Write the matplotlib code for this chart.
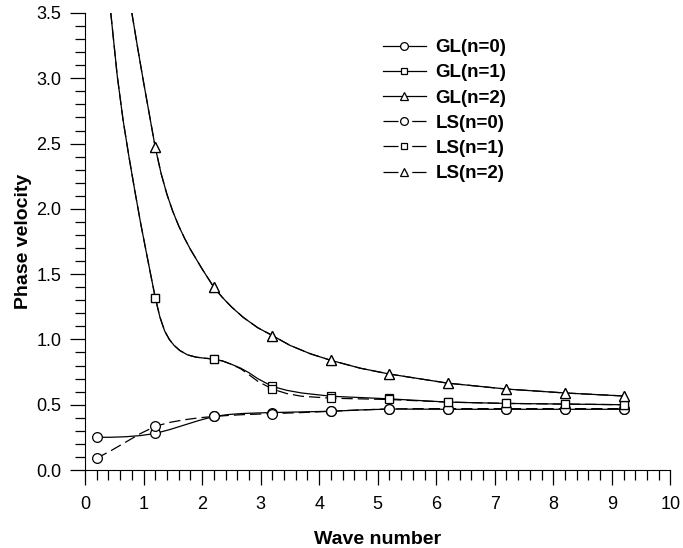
import numpy as np
import matplotlib.pyplot as plt
from matplotlib.ticker import MultipleLocator

plt.rcParams['font.family'] = ['Liberation Sans Narrow', 'Liberation Sans', 'DejaVu Sans']

# marker positions (wave number) and values
k = [0.2, 1.2, 2.2, 3.2, 4.2, 5.2, 6.2, 7.2, 8.2, 9.2]
gl0 = [0.25, 0.28, 0.41, 0.44, 0.45, 0.47, 0.465, 0.465, 0.465, 0.465]
gl1 = [np.nan, 1.32, 0.85, 0.64, 0.57, 0.55, 0.52, 0.51, 0.505, 0.50]
gl2 = [np.nan, 2.47, 1.40, 1.03, 0.84, 0.735, 0.665, 0.62, 0.59, 0.567]
ls0 = [0.09, 0.34, 0.41, 0.43, 0.45, 0.47, 0.47, 0.47, 0.47, 0.47]
ls1 = [np.nan, 1.32, 0.85, 0.62, 0.555, 0.545, 0.52, 0.51, 0.505, 0.50]
ls2 = [np.nan, 2.47, 1.40, 1.03, 0.84, 0.735, 0.665, 0.62, 0.59, 0.567]

# points (between markers)
c_gl0_x = [0.2, 0.45, 0.7, 0.95, 1.2, 1.45, 1.7, 1.95, 2.2, 2.45, 2.7, 2.95, 3.2, 3.7, 4.2,
           4.7, 5.2, 5.7, 6.2, 7.2, 8.2, 9.2]
c_gl0_y = [0.25, 0.251, 0.255, 0.264, 0.28, 0.31, 0.345, 0.38, 0.41, 0.425, 0.433, 0.437, 0.44, 0.445, 0.45,
           0.46, 0.467, 0.466, 0.465, 0.465, 0.465, 0.465]
c_ls0_x = [0.2, 0.45, 0.7, 0.95, 1.2, 1.45, 1.7, 1.95, 2.2, 2.45, 2.7, 2.95, 3.2, 3.7, 4.2,
           4.7, 5.2, 5.7, 6.2, 7.2, 8.2, 9.2]
c_ls0_y = [0.09, 0.15, 0.215, 0.28, 0.335, 0.365, 0.385, 0.40, 0.41, 0.418, 0.424, 0.428, 0.432, 0.44, 0.45,
           0.46, 0.468, 0.47, 0.47, 0.47, 0.47, 0.47]
c_gl1_x = [0.44, 0.55, 0.65, 0.75, 0.85, 0.95, 1.05, 1.12, 1.2, 1.28, 1.36, 1.44, 1.52, 1.62, 1.75,
           1.9, 2.05, 2.2, 2.35, 2.5, 2.66, 2.8, 2.95, 3.2, 3.45, 3.7, 4.2, 4.7, 5.2, 6.2, 7.2, 8.2, 9.2]
c_gl1_y = [3.5, 3.02, 2.68, 2.40, 2.14, 1.89, 1.66, 1.50, 1.32, 1.17, 1.065, 1.0, 0.955, 0.915, 0.882,
           0.864, 0.856, 0.85, 0.835, 0.81, 0.78, 0.745, 0.70, 0.64, 0.61, 0.59, 0.565, 0.555, 0.545,
           0.52, 0.51, 0.505, 0.50]
c_ls1_x = [0.44, 0.55, 0.65, 0.75, 0.85, 0.95, 1.05, 1.12, 1.2, 1.28, 1.36, 1.44, 1.52, 1.62, 1.75,
           1.9, 2.05, 2.2, 2.35, 2.5, 2.66, 2.8, 2.95, 3.2, 3.45, 3.7, 4.2, 4.7, 5.2, 6.2, 7.2, 8.2, 9.2]
c_ls1_y = [3.5, 3.02, 2.68, 2.40, 2.14, 1.89, 1.66, 1.50, 1.32, 1.17, 1.065, 1.0, 0.955, 0.915, 0.882,
           0.864, 0.856, 0.85, 0.835, 0.81, 0.775, 0.73, 0.68, 0.62, 0.585, 0.565, 0.55, 0.545, 0.54,
           0.52, 0.51, 0.505, 0.50]
c_gl2_x = [0.80, 0.90, 1.00, 1.10, 1.20, 1.30, 1.40, 1.50, 1.60, 1.70, 1.80, 1.90, 2.00, 2.10, 2.20,
           2.35, 2.50, 2.70, 2.95, 3.20, 3.50, 3.85, 4.20, 4.70, 5.20, 5.70, 6.20, 7.2, 8.2, 9.2]
c_gl2_y = [3.50, 3.23, 2.97, 2.72, 2.47, 2.27, 2.11, 1.98, 1.87, 1.775, 1.69, 1.615, 1.54, 1.47, 1.40,
           1.32, 1.25, 1.17, 1.09, 1.03, 0.955, 0.89, 0.84, 0.78, 0.735, 0.70, 0.665, 0.62, 0.59, 0.567]

fig = plt.figure(figsize=(6.83, 5.48), dpi=100)
ax = fig.add_axes([0.1245, 0.1423, 0.857, 0.834])

lw = 0.9
ax.plot(c_gl0_x, c_gl0_y, color='black', lw=lw)
ax.plot(c_ls0_x, c_ls0_y, color='black', lw=lw, dashes=(9, 4))
ax.plot(c_gl1_x, c_gl1_y, color='black', lw=lw)
ax.plot(c_ls1_x, c_ls1_y, color='black', lw=lw, dashes=(9, 4))
ax.plot(c_gl2_x, c_gl2_y, color='black', lw=lw)
ax.plot(c_gl2_x, c_gl2_y, color='black', lw=lw, dashes=(9, 4))

mk = dict(color='black', mfc='white', mec='black', mew=0.9, ls='none')
ax.plot(k, gl0, marker='o', ms=7, **mk)
ax.plot(k, ls0, marker='o', ms=7, **mk)
ax.plot(k, gl1, marker='s', ms=6, **mk)
ax.plot(k, ls1, marker='s', ms=6, **mk)
ax.plot(k, gl2, marker='^', ms=6.5, **mk)
ax.plot(k, ls2, marker='^', ms=6.5, **mk)

# legend handles
handles = []
names = ['GL(n=0)', 'GL(n=1)', 'GL(n=2)', 'LS(n=0)', 'LS(n=1)', 'LS(n=2)']
marks = ['o', 's', '^', 'o', 's', '^']
sizes = [7, 6, 6.5, 7, 6, 6.5]
for i, name in enumerate(names):
    if i < 3:
        h, = ax.plot([], [], color='black', lw=lw, marker=marks[i], ms=sizes[i],
                     mfc='white', mec='black', mew=0.9, label=name)
    else:
        h, = ax.plot([], [], color='black', lw=lw, marker=marks[i], ms=sizes[i],
                     mfc='white', mec='black', mew=0.9, dashes=(12, 4, 3, 4), label=name)
    handles.append(h)
leg = ax.legend(handles=handles, loc='upper left', bbox_to_anchor=(0.48, 0.98),
                frameon=False, handlelength=2.3, handletextpad=0.5, labelspacing=0.43,
                markerscale=0.8,
                prop={'weight': 'bold', 'size': 13.5, 'family': ['Liberation Sans', 'DejaVu Sans']})

ax.set_xlim(0, 10)
ax.set_ylim(0, 3.5)
ax.xaxis.set_major_locator(MultipleLocator(1))
ax.xaxis.set_minor_locator(MultipleLocator(0.2))
ax.yaxis.set_major_locator(MultipleLocator(0.5))
ax.yaxis.set_minor_locator(MultipleLocator(0.1))
ax.yaxis.set_major_formatter(plt.FormatStrFormatter('%.1f'))
ax.spines['top'].set_visible(False)
ax.spines['right'].set_visible(False)
ax.tick_params(which='major', direction='out', length=11, width=0.9, labelsize=13, pad=6)
ax.tick_params(which='minor', direction='out', length=7, width=0.9)
ax.tick_params(axis='x', which='major', pad=8)

ax.set_xlabel('Wave number', fontsize=14, fontweight='bold',
              family=['Liberation Sans', 'DejaVu Sans'], labelpad=13)
ax.set_ylabel('Phase velocity', fontsize=14, fontweight='bold',
              family=['Liberation Sans', 'DejaVu Sans'], labelpad=3)

fig.savefig('out.png', dpi=100)
